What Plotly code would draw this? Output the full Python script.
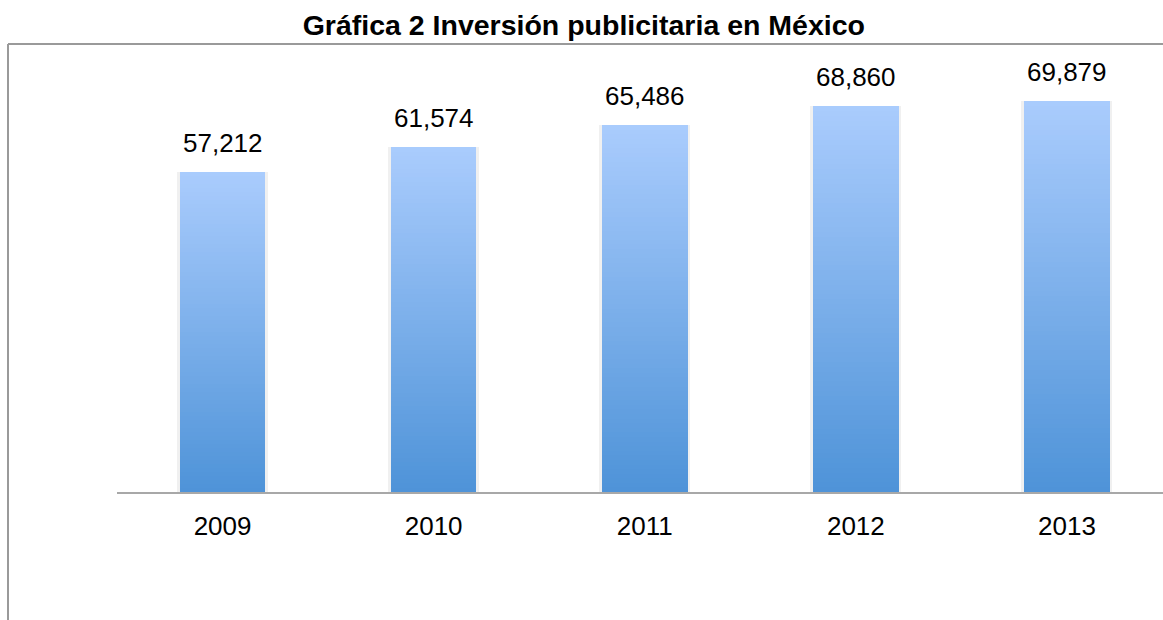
import plotly.graph_objects as go

# Inversión publicitaria anual (millones de pesos)
years = ["2009", "2010", "2011", "2012", "2013"]
values = [57212, 61574, 65486, 68860, 69879]
value_labels = ["57,212", "61,574", "65,486", "68,860", "69,879"]

FONT = "Liberation Sans, Arial, sans-serif"
TOP_RGB = (170, 204, 253)      # light blue at the top of each bar
BOTTOM_RGB = (78, 147, 216)    # darker blue at the base
N_STEPS = 80                   # slices used to build the vertical gradient
BAR_W = 0.405


def mix(t):
    r = round(BOTTOM_RGB[0] + (TOP_RGB[0] - BOTTOM_RGB[0]) * t)
    g = round(BOTTOM_RGB[1] + (TOP_RGB[1] - BOTTOM_RGB[1]) * t)
    b = round(BOTTOM_RGB[2] + (TOP_RGB[2] - BOTTOM_RGB[2]) * t)
    return f"rgb({r},{g},{b})"


fig = go.Figure()

# faint shadow behind each bar (base axes, drawn underneath)
fig.add_trace(go.Bar(
    x=years, y=values, width=BAR_W + 0.026,
    marker=dict(color="rgba(0,0,0,0.06)", line=dict(width=0)),
    hoverinfo="skip", showlegend=False,
    xaxis="x", yaxis="y",
))

# each bar is stacked from equal slices whose colour fades upward
for i in range(N_STEPS):
    t = (i + 0.5) / N_STEPS
    fig.add_trace(go.Bar(
        x=years,
        y=[v / N_STEPS for v in values],
        width=BAR_W,
        marker=dict(color=mix(t), line=dict(width=0)),
        hoverinfo="skip",
        showlegend=False,
        xaxis="x2", yaxis="y2",
    ))

# value labels above the bars (category axis positions are indices)
for idx, (v, lab) in enumerate(zip(values, value_labels)):
    fig.add_annotation(
        x=idx, y=v, xref="x2", yref="y2", text=lab, showarrow=False,
        yanchor="bottom", yshift=12,
        font=dict(family=FONT, size=26, color="#000000"),
    )

# chart frame: left and top edges
frame = dict(color="#9a9a9a", width=2)
fig.add_shape(type="line", xref="paper", yref="paper",
              x0=-0.1042, x1=-0.1042, y0=1.0, y1=-0.3, line=frame)
fig.add_shape(type="line", xref="paper", yref="paper",
              x0=-0.1042, x1=1.0, y0=1.0, y1=1.0, line=frame)

fig.update_layout(
    width=1163, height=620,
    margin=dict(l=117, r=0, t=44, b=128),
    paper_bgcolor="white", plot_bgcolor="white",
    barmode="stack", bargap=0,
    title=dict(
        text="<b>Gráfica 2 Inversión publicitaria en México</b>",
        x=0.502, xanchor="center", y=1 - 25 / 620, yanchor="middle",
        font=dict(family=FONT, size=28.5, color="#000000"),
    ),
    xaxis=dict(
        type="category", range=[-0.5, 4.455],
        showline=True, linecolor="#a8a8a8", linewidth=2,
        showgrid=False, zeroline=False, ticks="",
        ticklabelstandoff=10,
        tickfont=dict(family=FONT, size=26, color="#000000"),
    ),
    xaxis2=dict(
        type="category", range=[-0.5, 4.455], overlaying="x",
        visible=False, showgrid=False, zeroline=False,
    ),
    yaxis=dict(
        range=[0, 80000], visible=False, showgrid=False, zeroline=False,
    ),
    yaxis2=dict(
        range=[0, 80000], overlaying="y", visible=False,
        showgrid=False, zeroline=False,
    ),
)

fig.write_html("out.html")
